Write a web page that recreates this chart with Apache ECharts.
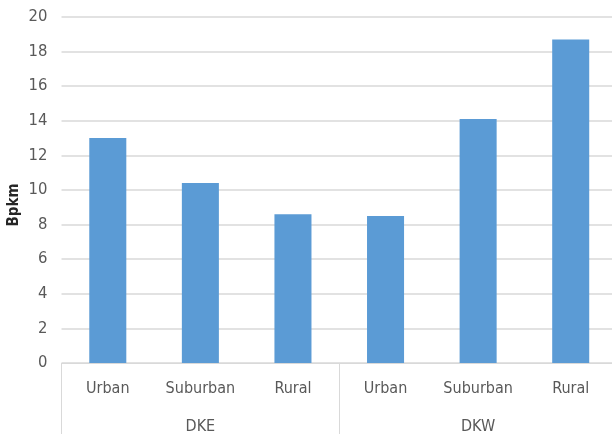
<!DOCTYPE html>
<html>
<head>
<meta charset="utf-8">
<script src="https://cdn.jsdelivr.net/npm/echarts@6/dist/echarts.min.js"></script>
<style>
html,body{margin:0;padding:0;background:#fff;}
#chart{width:612px;height:434px;}
</style>
</head>
<body>
<div id="chart"></div>
<script>
const categories = ['Urban', 'Suburban', 'Rural', 'Urban', 'Suburban', 'Rural'];
const groups = ['DKE', 'DKW'];
const values = [13.0, 10.4, 8.6, 8.5, 14.1, 18.7];
const yTicks = { min: 0, max: 20, interval: 2 };

const FONT = "'Liberation Sans Narrow', 'DejaVu Sans Condensed', 'Open Sans', sans-serif";
const chart = echarts.init(document.getElementById('chart'));
chart.setOption({
  animation: false,
  backgroundColor: '#ffffff',
  grid: { left: 61.5, right: -5, top: 17, bottom: 71, containLabel: false, outerBoundsMode: 'none' },
  xAxis: [
    {
      type: 'category',
      data: categories,
      position: 'bottom',
      axisLine: { show: true, lineStyle: { color: '#d9d9d9', width: 1 } },
      axisTick: { show: false },
      axisLabel: { interval: 0, margin: 18, color: '#595959', fontSize: 16, fontFamily: FONT }
    },
    {
      type: 'category',
      data: groups,
      position: 'bottom',
      axisLine: { show: false },
      axisTick: { show: true, length: 75, interval: 0, lineStyle: { color: '#d9d9d9', width: 1 } },
      axisLabel: { interval: 0, margin: 56, color: '#595959', fontSize: 16, fontFamily: FONT }
    }
  ],
  yAxis: {
    type: 'value',
    min: yTicks.min,
    max: yTicks.max,
    interval: yTicks.interval,
    name: 'Bpkm',
    nameLocation: 'middle',
    nameGap: 40,
    nameMoveOverlap: false,
    nameTextStyle: { color: '#262626', fontSize: 15, fontWeight: 'bold', fontFamily: FONT, padding: [0, 30, 0, 0] },
    axisLine: { show: false },
    axisTick: { show: false },
    axisLabel: { margin: 14, color: '#595959', fontSize: 16.5, fontFamily: FONT },
    splitLine: { show: true, lineStyle: { color: '#d9d9d9', width: 1.5 } }
  },
  series: [
    {
      type: 'bar',
      xAxisIndex: 0,
      data: values,
      barWidth: '40%',
      itemStyle: { color: '#5b9bd5' }
    }
  ]
});
</script>
</body>
</html>
